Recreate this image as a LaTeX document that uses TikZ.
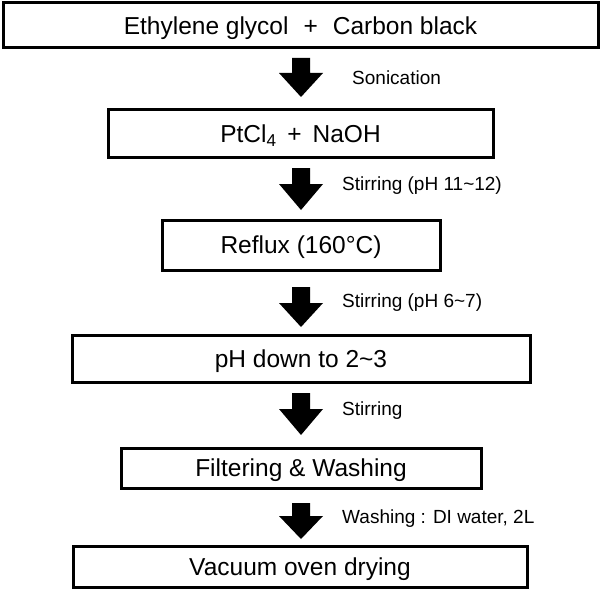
\documentclass[tikz,border=0pt]{standalone}
\usepackage{fontspec}
\setmainfont{Liberation Sans}
\begin{document}
\begin{tikzpicture}[x=1pt,y=-1pt,
  stepbox/.style={draw=black,line width=3pt,rectangle,inner sep=0pt,text height=18.6pt,text depth=1pt,font=\fontsize{24.5}{28}\selectfont},
  note/.style={anchor=west,inner sep=0pt,font=\fontsize{19}{22}\selectfont},
  blockarrow/.style={fill=black}]
\useasboundingbox (0,0) rectangle (602,591);
\node[stepbox,minimum width=595pt,minimum height=45pt] (b1) at (300.5,25.5) {Ethylene glycol\,\, +\,\, Carbon black};
\node[stepbox,minimum width=385pt,minimum height=47pt] (b2) at (300.5,133.5) {PtCl\textsubscript{4}\, +\, NaOH};
\node[stepbox,minimum width=278pt,minimum height=50pt] (b3) at (301,245) {Reflux (160°C)};
\node[stepbox,minimum width=458pt,minimum height=47pt] (b4) at (301,358.5) {pH down to 2\textasciitilde3};
\node[stepbox,minimum width=360pt,minimum height=40pt] (b5) at (301,468) {Filtering \& Washing};
\node[stepbox,minimum width=454pt,minimum height=41pt] (b6) at (300,566.5) {Vacuum oven drying};
% block arrows: top y, head y, tip y
\newcommand{\myarrow}[3]{\fill[blockarrow] (292,#1) -- (310,#1) -- (310,#2) -- (323,#2) -- (301,#3) -- (279,#2) -- (292,#2) -- cycle;}
\myarrow{58}{73}{97}
\myarrow{168}{184}{210}
\myarrow{287}{303}{327}
\myarrow{393}{409}{435}
\myarrow{503}{516}{539}
\node[note] (l1) at (352,78) {Sonication};
\node[note] (l2) at (342,186) {Stirring (pH 11\textasciitilde12)};
\node[note] (l3) at (342,303) {Stirring (pH 6\textasciitilde7)};
\node[note] (l4) at (342,411) {Stirring};
\node[note] (l5) at (342,519) {Washing : DI water, 2L};
\end{tikzpicture}
\end{document}
